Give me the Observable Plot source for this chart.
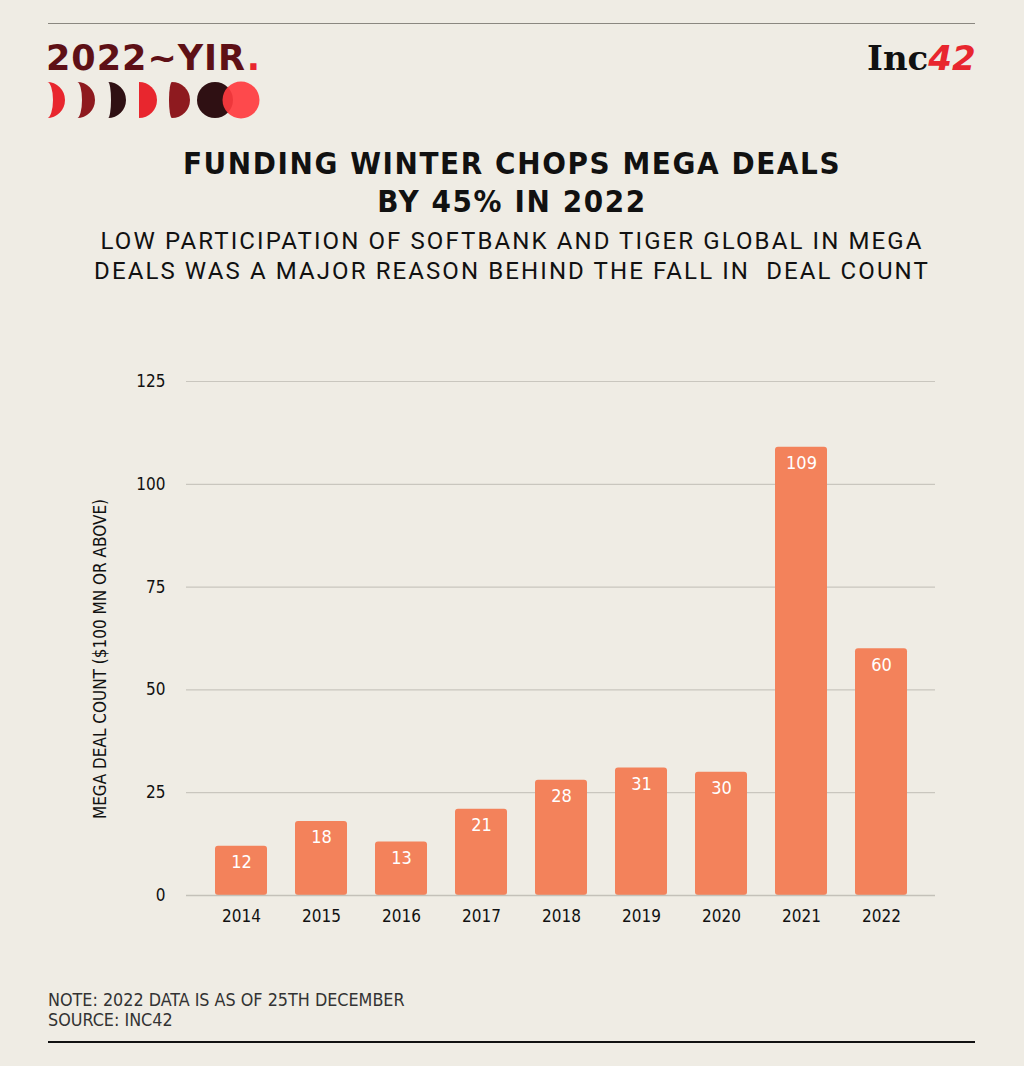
<!DOCTYPE html>
<html>
<head>
<meta charset="utf-8">
<script src="https://cdn.jsdelivr.net/npm/d3@7"></script>
<script src="https://cdn.jsdelivr.net/npm/@observablehq/plot@0.6"></script>
<style>
  html, body { margin: 0; padding: 0; background: #efece4; }
  #page { position: relative; width: 1024px; height: 1066px; background: #efece4; overflow: hidden; font-family: Roboto, "Liberation Sans", sans-serif; }
  .abs { position: absolute; }
  #topline { left: 48px; top: 23px; width: 927px; height: 0; border-top: 1.5px solid #8a8780; }
  #botline { left: 48px; top: 1041px; width: 927px; height: 0; border-top: 2.5px solid #111; }
  #yir { left: 46px; top: 37px; font-family: "DejaVu Sans", sans-serif; font-weight: bold; font-size: 35px; color: #5e1016; letter-spacing: 1px; line-height: 42px; }
  #yir .dot { color: #e8262e; }
  #moons { left: 46px; top: 81px; }
  #inc { left: 867px; top: 37px; font-family: "DejaVu Serif", serif; font-weight: bold; font-size: 34px; color: #111; line-height: 42px; letter-spacing: 0px; }
  #inc .r { color: #e8262e; font-family: "DejaVu Sans", sans-serif; font-style: italic; }
  #title { left: 0; width: 1024px; top: 144px; text-align: center; font-family: "DejaVu Sans Condensed", "DejaVu Sans", sans-serif; font-stretch: condensed; font-weight: bold; font-size: 31px; letter-spacing: 1.6px; line-height: 38px; color: #111; }
  #subtitle { left: 0; width: 1024px; top: 226px; text-align: center; font-family: Roboto, sans-serif; font-size: 24px; letter-spacing: 2.1px; line-height: 30px; color: #111; }
  #ylabel { left: 100px; top: 659px; transform: translate(-50%, -50%) rotate(-90deg); white-space: nowrap; font-family: "DejaVu Sans Condensed", Roboto, sans-serif; font-stretch: condensed; font-size: 17px; color: #111; }
  #chart { left: 0; top: 360px; }
  #note { left: 48px; top: 990px; font-family: "DejaVu Sans Condensed", Roboto, sans-serif; font-stretch: condensed; font-size: 17.8px; line-height: 20px; color: #333; }
</style>
</head>
<body>
<div id="page">
  <div id="topline" class="abs"></div>
  <div id="yir" class="abs">2022~YIR<span class="dot">.</span></div>
  <svg id="moons" class="abs" width="220" height="40" viewBox="0 0 220 40">
    <path d="M1,1 A18,18 0 0 1 1,37 A6,18 0 0 0 1,1 Z" fill="#e8262e"/>
    <path d="M31,1 A18,18 0 0 1 31,37 A5,18 0 0 0 31,1 Z" fill="#8e1a1f"/>
    <path d="M62,1 A18,18 0 0 1 62,37 A3,18 0 0 0 62,1 Z" fill="#2f1013"/>
    <path d="M93,1 A18,18 0 0 1 93,37 Z" fill="#e8262e"/>
    <path d="M126,1 A18,18 0 0 1 126,37 A3,18 0 0 1 126,1 Z" fill="#8e1a1f"/>
    <circle cx="169" cy="19" r="18" fill="#2f1013"/>
    <circle cx="195" cy="19" r="18.5" fill="#ff3b3f" fill-opacity="0.92"/>
  </svg>
  <div id="inc" class="abs">Inc<span class="r">42</span></div>
  <div id="title" class="abs">FUNDING WINTER CHOPS MEGA DEALS<br>BY 45% IN 2022</div>
  <div id="subtitle" class="abs">LOW PARTICIPATION OF SOFTBANK AND TIGER GLOBAL IN MEGA<br>DEALS WAS A MAJOR REASON BEHIND THE FALL IN&nbsp; DEAL COUNT</div>
  <div id="ylabel" class="abs">MEGA DEAL COUNT ($100 MN OR ABOVE)</div>
  <div id="chart" class="abs"></div>
  <div id="note" class="abs">NOTE: 2022 DATA IS AS OF 25TH DECEMBER<br>SOURCE: INC42</div>
  <div id="botline" class="abs"></div>
</div>
<script>
const years = ["2014", "2015", "2016", "2017", "2018", "2019", "2020", "2021", "2022"];
const dealCounts = [12, 18, 13, 21, 28, 31, 30, 109, 60];
const yTicks = [0, 25, 50, 75, 100, 125];

const data = years.map((y, i) => ({year: y, count: dealCounts[i]}));
const tickFont = "'DejaVu Sans Condensed', Roboto, sans-serif";

const chart = Plot.plot({
  width: 1024,
  height: 580,
  marginTop: 21,
  marginBottom: 45,
  marginLeft: 186,
  marginRight: 89,
  style: {background: "transparent", fontFamily: tickFont, fontSize: "17px", color: "#111"},
  x: {domain: years, padding: 0.35, align: 0.5, label: null, tickSize: 0, tickPadding: 14},
  y: {domain: [0, 125], ticks: yTicks, label: null, tickSize: 0, tickPadding: 21},
  marks: [
    Plot.ruleY(yTicks, {stroke: "#c9c6be", strokeWidth: 1.2}),
    Plot.barY(data, {x: "year", y: "count", fill: "#f3825b", rx: 3}),
    Plot.ruleY([0], {stroke: "#c4c1b9", strokeWidth: 1.5}),
    Plot.text(data, {x: "year", y: "count", text: d => String(d.count), dy: 16, fill: "white", fontSize: 18, fontFamily: tickFont})
  ]
});
chart.querySelectorAll("text").forEach(t => t.style.fontStretch = "condensed");
document.getElementById("chart").appendChild(chart);
</script>
</body>
</html>
